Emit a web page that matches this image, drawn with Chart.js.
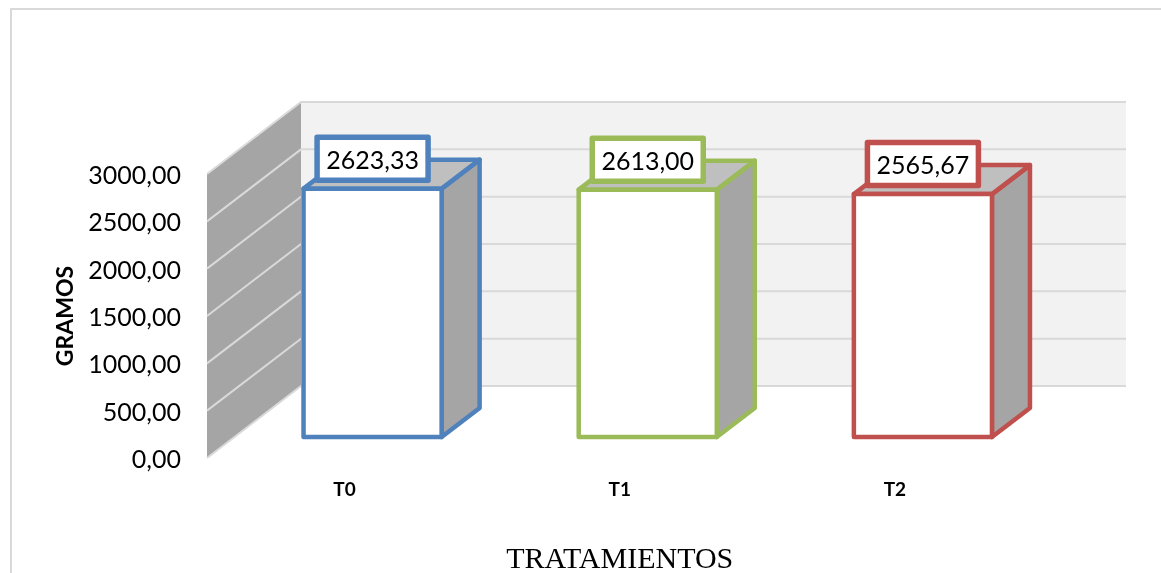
<!DOCTYPE html>
<html><head><meta charset="utf-8">
<style>html,body{margin:0;padding:0;background:#fff}canvas{display:block}</style>
<script src="https://cdn.jsdelivr.net/npm/chart.js@4"></script>
</head><body><canvas id="c" width="1161" height="573"></canvas>
<script>
const categories = ['T0', 'T1', 'T2'];
const gramos = [2623.33, 2613.00, 2565.67];
const barColors = ['#4f81bd', '#9bbb59', '#c0504d'];
const yTicks = [0, 500, 1000, 1500, 2000, 2500, 3000];
const xTitle = 'TRATAMIENTOS';
const yTitle = 'GRAMOS';
const fmt = v => v.toFixed(2).replace('.', ',');

const WALL = {dx: 94, dy: -72}, BAR = {dx: 38, dy: -29}, SHIFT = {dx: 28, dy: -21};

const faux3d = {
  id: 'faux3d',
  beforeDraw(ch) {
    const c = ch.ctx;
    c.save();
    c.fillStyle = '#fff'; c.fillRect(0, 0, ch.width, ch.height);
    c.strokeStyle = '#d9d9d9'; c.lineWidth = 2;
    c.beginPath(); c.moveTo(11, 573); c.lineTo(11, 9); c.lineTo(1161, 9); c.stroke();
    c.restore();
  },
  beforeDatasetsDraw(ch) {
    const c = ch.ctx, y = ch.scales.y, a = ch.chartArea;
    const L = a.left, R = L + 919;
    const y0 = y.getPixelForValue(0), yT = y.getPixelForValue(3000);
    c.save();
    c.fillStyle = '#f2f2f2';
    c.fillRect(L + WALL.dx, yT + WALL.dy, R - L - WALL.dx, y0 - yT);
    c.fillStyle = '#a5a5a5';
    c.beginPath();
    c.moveTo(L, y0); c.lineTo(L, yT); c.lineTo(L + WALL.dx, yT + WALL.dy); c.lineTo(L + WALL.dx, y0 + WALL.dy);
    c.closePath(); c.fill();
    c.strokeStyle = '#d9d9d9'; c.lineWidth = 2;
    yTicks.forEach(t => {
      const p = y.getPixelForValue(t);
      c.beginPath();
      c.moveTo(L, p); c.lineTo(L + WALL.dx, p + WALL.dy); c.lineTo(R, p + WALL.dy);
      c.stroke();
    });
    const meta = ch.getDatasetMeta(0);
    meta.data.forEach((el, i) => {
      const l = el.x - el.width / 2 + SHIFT.dx, r = el.x + el.width / 2 + SHIFT.dx;
      const t = el.y + SHIFT.dy, b = el.base + SHIFT.dy;
      c.lineWidth = 4.5; c.lineJoin = 'round'; c.strokeStyle = barColors[i];
      c.fillStyle = '#a5a5a5';
      c.beginPath();
      c.moveTo(r, t); c.lineTo(r + BAR.dx, t + BAR.dy); c.lineTo(r + BAR.dx, b + BAR.dy); c.lineTo(r, b);
      c.closePath(); c.fill(); c.stroke();
      c.fillStyle = '#bfbfbf';
      c.beginPath();
      c.moveTo(l, t); c.lineTo(l + BAR.dx, t + BAR.dy); c.lineTo(r + BAR.dx, t + BAR.dy); c.lineTo(r, t);
      c.closePath(); c.fill(); c.stroke();
    });
    c.restore();
    c.save();
    c.translate(SHIFT.dx, SHIFT.dy);
  },
  afterDatasetsDraw(ch) {
    const c = ch.ctx;
    c.restore();
    const meta = ch.getDatasetMeta(0);
    c.save();
    meta.data.forEach((el, i) => {
      const l = el.x - el.width / 2 + SHIFT.dx, r = el.x + el.width / 2 + SHIFT.dx;
      const t = el.y + SHIFT.dy, b = el.base + SHIFT.dy;
      c.lineWidth = 4.5; c.lineJoin = 'round'; c.strokeStyle = barColors[i];
      c.strokeRect(l, t, r - l, b - t);
      const cx = (l + r) / 2, cy = t - 30;
      c.fillStyle = '#fff'; c.lineWidth = 5.5;
      c.fillRect(cx - 55.5, cy - 21.5, 111, 43);
      c.strokeRect(cx - 55.5, cy - 21.5, 111, 43);
      c.fillStyle = '#000'; c.font = '25px Lato';
      c.textAlign = 'center'; c.textBaseline = 'middle';
      c.fillText(fmt(gramos[i]), cx, cy + 2);
    });
    c.restore();
  }
};

new Chart(document.getElementById('c'), {
  type: 'bar',
  data: {
    labels: categories,
    datasets: [{
      data: gramos,
      backgroundColor: '#ffffff',
      borderWidth: 0,
      barPercentage: 138 / 275,
      categoryPercentage: 1
    }]
  },
  plugins: [faux3d],
  options: {
    responsive: false,
    animation: false,
    devicePixelRatio: 1,
    layout: {padding: {left: 52, right: 128.5, top: 174, bottom: 0}},
    plugins: {legend: {display: false}, tooltip: {enabled: false}, title: {display: false}},
    scales: {
      x: {
        grid: {display: false, drawTicks: false},
        border: {display: false},
        afterFit(s) { s.height = 115; },
        ticks: {color: '#000', padding: 20, maxRotation: 0, font: {family: 'Lato', size: 19, weight: 'bold'}},
        title: {display: true, text: xTitle, color: '#000', padding: 0, font: {family: '"Liberation Serif"', size: 30, lineHeight: 0.85}}
      },
      y: {
        min: 0, max: 3000,
        grid: {display: false, drawTicks: false},
        border: {display: false},
        afterFit(s) { s.width = 155; },
        afterBuildTicks(s) { s.ticks = yTicks.map(v => ({value: v})); },
        ticks: {color: '#000', padding: 26, labelOffset: 2, callback: v => fmt(v), font: {family: 'Lato', size: 25}},
        title: {display: true, text: yTitle, color: '#000', padding: 0, font: {family: 'Lato', size: 23, weight: 'bold', lineHeight: 1.2}}
      }
    }
  }
});
</script></body></html>
